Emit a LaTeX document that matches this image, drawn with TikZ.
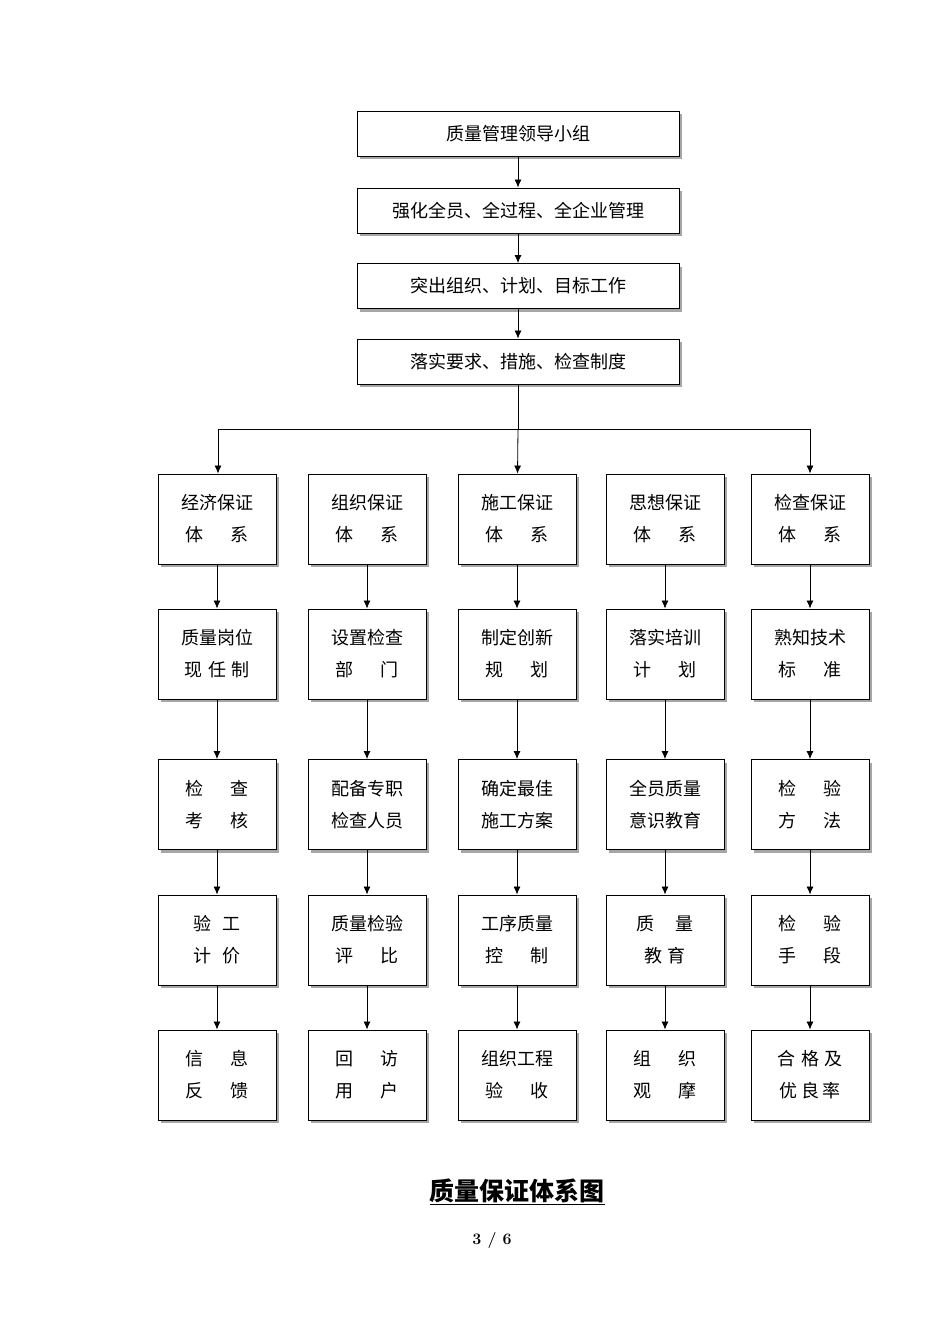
\documentclass[tikz,border=0pt]{standalone}
\usepackage{fontspec}
\newfontfamily\cjk{Noto Sans CJK SC}
\usetikzlibrary{shadows,arrows.meta}
\begin{document}
\begin{tikzpicture}[x=1pt,y=-1pt,
  bx/.style={draw,line width=0.9pt,fill=white,drop shadow={shadow xshift=3pt,shadow yshift=-3pt,fill=gray!70,opacity=1},inner sep=0pt,align=center,font=\cjk\fontsize{18}{32}\selectfont},
  wide/.style={bx,minimum width=322pt,minimum height=45pt},
  cell/.style={bx,minimum width=118pt,minimum height=90pt},
  ar/.style={-{Latex[length=8pt,width=7pt]},line width=0.8pt}]
\useasboundingbox (0,0) rectangle (950,1344);
\node[wide] (t1) at (518,133.5) {质量管理领导小组};
\node[wide] (t2) at (518,210.5) {强化全员、全过程、全企业管理};
\node[wide] (t3) at (518,286) {突出组织、计划、目标工作};
\node[wide] (t4) at (518,361.5) {落实要求、措施、检查制度};
\draw[ar] (t1) -- (t2);
\draw[ar] (t2) -- (t3);
\draw[ar] (t3) -- (t4);
\def\ys{{519,654,804.5,940,1075}}
\foreach \c/\x/\a/\b/\cc/\d/\e in {
 1/217/{经济保证\\体\hspace{1.5em}系}/{质量岗位\\现\hspace{0.3em}任\hspace{0.3em}制}/{检\hspace{1.5em}查\\考\hspace{1.5em}核}/{验\hspace{0.6em}工\\计\hspace{0.6em}价}/{信\hspace{1.5em}息\\反\hspace{1.5em}馈},
 2/367/{组织保证\\体\hspace{1.5em}系}/{设置检查\\部\hspace{1.5em}门}/{配备专职\\检查人员}/{质量检验\\评\hspace{1.5em}比}/{回\hspace{1.5em}访\\用\hspace{1.5em}户},
 3/517/{施工保证\\体\hspace{1.5em}系}/{制定创新\\规\hspace{1.5em}划}/{确定最佳\\施工方案}/{工序质量\\控\hspace{1.5em}制}/{组织工程\\验\hspace{1.5em}收},
 4/665/{思想保证\\体\hspace{1.5em}系}/{落实培训\\计\hspace{1.5em}划}/{全员质量\\意识教育}/{质\hspace{1.2em}量\\教\hspace{0.3em}育}/{组\hspace{1.5em}织\\观\hspace{1.5em}摩},
 5/810/{检查保证\\体\hspace{1.5em}系}/{熟知技术\\标\hspace{1.5em}准}/{检\hspace{1.5em}验\\方\hspace{1.5em}法}/{检\hspace{1.5em}验\\手\hspace{1.5em}段}/{合\hspace{0.3em}格\hspace{0.3em}及\\优\hspace{0.2em}良\hspace{0.2em}率}}{
  \node[cell] (r1c\c) at (\x,519) {\a};
  \node[cell] (r2c\c) at (\x,654) {\b};
  \node[cell] (r3c\c) at (\x,804.5) {\cc};
  \node[cell] (r4c\c) at (\x,940) {\d};
  \node[cell] (r5c\c) at (\x,1075) {\e};
  \draw[ar] (r1c\c) -- (r2c\c);
  \draw[ar] (r2c\c) -- (r3c\c);
  \draw[ar] (r3c\c) -- (r4c\c);
  \draw[ar] (r4c\c) -- (r5c\c);
}
\coordinate (bl) at (218,429);
\coordinate (br) at (810,429);
\coordinate (bm) at (518,429);
\draw[line width=0.8pt] (t4) -- (bm);
\draw[line width=0.8pt] (bl) -- (br);
\draw[ar] (bl) -- (bl |- r1c1.north);
\draw[ar] (bm) -- (r1c3);
\draw[ar] (br) -- (r1c5);
\node[font=\cjk\bfseries\fontsize{25}{28}\selectfont,inner sep=0pt] (title) at (517,1192) {\underline{质量保证体系图}};
\node[font=\bfseries\fontsize{16}{18}\selectfont,inner sep=0pt] (pg) at (492,1240) {3 / 6};
\end{tikzpicture}
\end{document}
